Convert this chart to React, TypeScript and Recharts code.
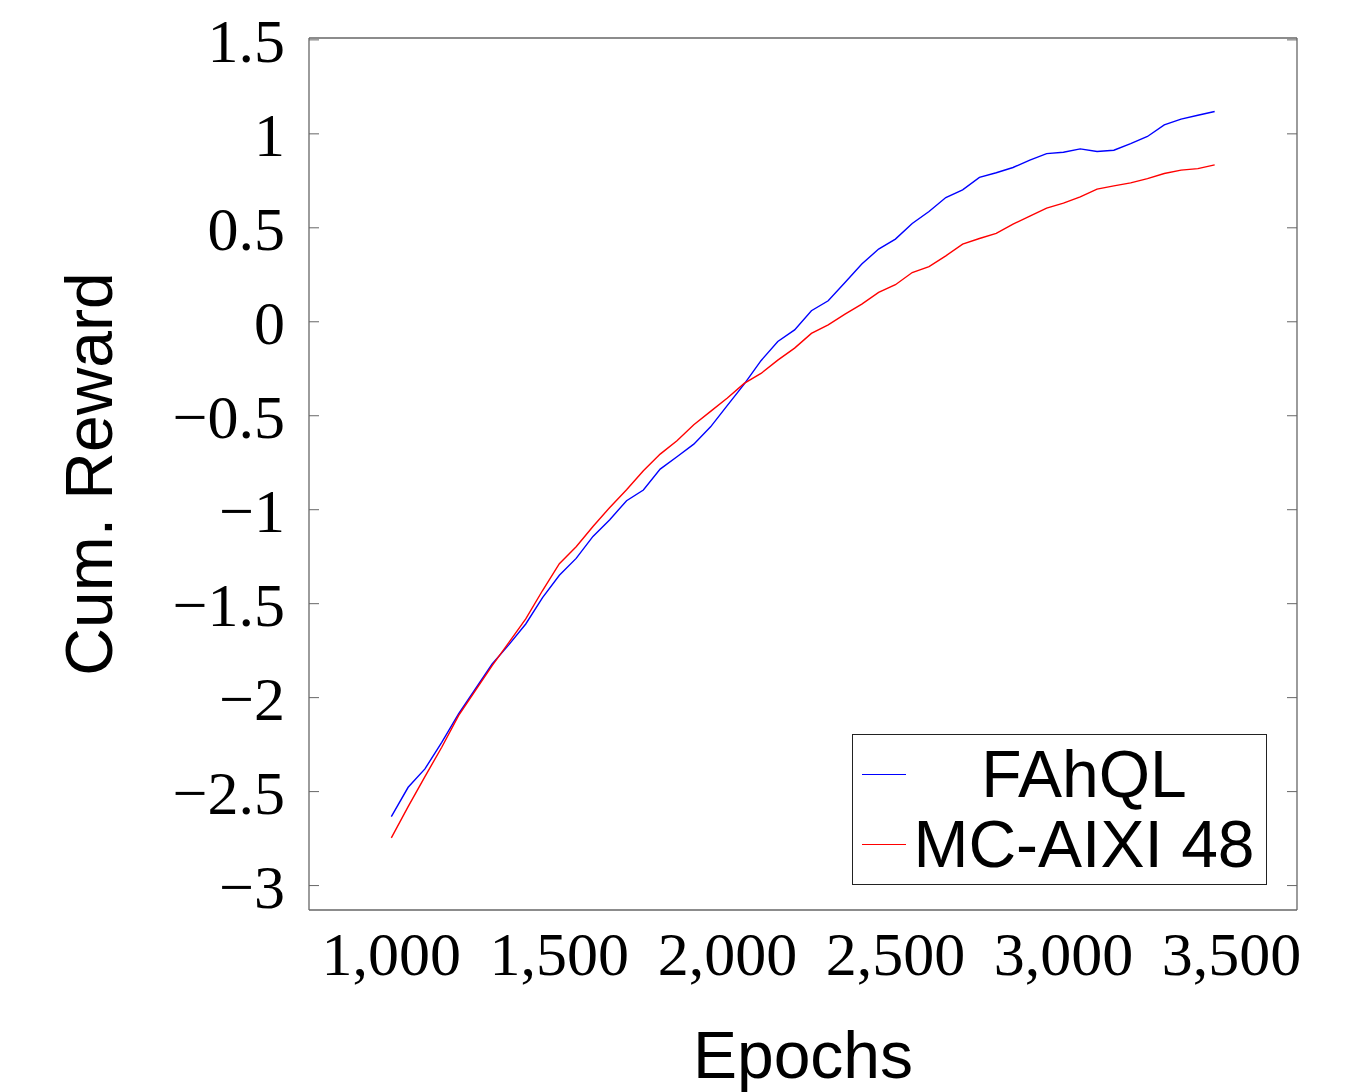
import React from 'react'
import { LineChart, Line, XAxis, YAxis, Legend } from 'recharts'

const epochs = [
  1000, 1050, 1100, 1150, 1200, 1250, 1300, 1350, 1400, 1450,
  1500, 1550, 1600, 1650, 1700, 1750, 1800, 1850, 1900, 1950,
  2000, 2050, 2100, 2150, 2200, 2250, 2300, 2350, 2400, 2450,
  2500, 2550, 2600, 2650, 2700, 2750, 2800, 2850, 2900, 2950,
  3000, 3050, 3100, 3150, 3200, 3250, 3300, 3350, 3400, 3450,
]

const fahql = [
  -2.633, -2.477, -2.379, -2.238, -2.087, -1.954, -1.821, -1.718, -1.608, -1.468,
  -1.349, -1.259, -1.142, -1.053, -0.952, -0.895, -0.784, -0.718, -0.651, -0.559,
  -0.445, -0.332, -0.207, -0.105, -0.043, 0.059, 0.112, 0.209, 0.307, 0.387,
  0.44, 0.523, 0.587, 0.661, 0.702, 0.768, 0.793, 0.821, 0.86, 0.895,
  0.902, 0.92, 0.906, 0.913, 0.948, 0.986, 1.048, 1.078, 1.099, 1.119,
]

const mcAixi = [
  -2.746, -2.58, -2.42, -2.264, -2.096, -1.963, -1.83, -1.706, -1.581, -1.43,
  -1.287, -1.197, -1.089, -0.988, -0.894, -0.793, -0.704, -0.633, -0.548, -0.477,
  -0.406, -0.328, -0.275, -0.204, -0.14, -0.062, -0.016, 0.041, 0.094, 0.156,
  0.197, 0.262, 0.293, 0.351, 0.413, 0.443, 0.47, 0.52, 0.562, 0.605,
  0.631, 0.665, 0.706, 0.723, 0.739, 0.762, 0.789, 0.807, 0.815, 0.835,
]

const xTicks = [1000, 1500, 2000, 2500, 3000, 3500]
const yTicks = [-3, -2.5, -2, -1.5, -1, -0.5, 0, 0.5, 1, 1.5]
const xDomain = [755, 3695]
const yDomain = [-3.13, 1.51]

const data = epochs.map((e, i) => ({ epoch: e, fahql: fahql[i], mcAixi: mcAixi[i] }))

const AXIS = '#666'
const SERIF = '"Liberation Serif", "Times New Roman", serif'
const SANS = '"Liberation Sans", Arial, sans-serif'
const tickFont = { fontFamily: SERIF, fontSize: 62, fill: '#000' }

const fmtX = (v: number) => v.toLocaleString('en-US')
const fmtY = (v: number) => (v < 0 ? '\u2212' + String(-v) : String(v))

// blank tick label so only the inward tick marks are drawn
const NoLabel = () => <g />

function YTitle({ viewBox }: any) {
  const cy = viewBox.y + viewBox.height / 2
  return (
    <text x={112} y={cy} transform={`rotate(-90, 112, ${cy})`} textAnchor="middle"
      style={{ fontFamily: SANS, fontSize: 66, fill: '#000' }}>
      Cum. Reward
    </text>
  )
}

function XTitle({ viewBox }: any) {
  const cx = viewBox.x + viewBox.width / 2
  return (
    <text x={cx} y={viewBox.y + 168} textAnchor="middle"
      style={{ fontFamily: SANS, fontSize: 66, fill: '#000' }}>
      Epochs
    </text>
  )
}

function LegendBox({ payload }: any) {
  return (
    <div style={{
      border: '1.5px solid #222', background: '#fff', width: 413, padding: '4px 0 5px 0',
      fontFamily: SANS, fontSize: 66, color: '#000', boxSizing: 'content-box',
    }}>
      {(payload || []).map((p: any) => (
        <div key={p.value} style={{ display: 'flex', alignItems: 'center', height: 70, lineHeight: '70px' }}>
          <div style={{ width: 44, marginLeft: 9, marginRight: 4, borderTop: `1.5px solid ${p.color}` }} />
          <div style={{ width: 348, textAlign: 'center', whiteSpace: 'nowrap' }}>{p.value}</div>
        </div>
      ))}
    </div>
  )
}

export default function App() {
  return (
    <div style={{ position: 'absolute', left: 0, top: 0, width: 1372, height: 1092, background: '#fff' }}>
      <LineChart width={1372} height={1092} data={data} margin={{ top: 38, right: 75, bottom: 0, left: 0 }}>
        {/* labelled axes */}
        <XAxis xAxisId="b" dataKey="epoch" type="number" domain={xDomain} ticks={xTicks}
          allowDataOverflow height={182} tickFormatter={fmtX} tick={tickFont}
          tickLine={false} tickSize={0} tickMargin={21} axisLine={{ stroke: AXIS, strokeWidth: 1.3 }}
          label={<XTitle />} />
        <YAxis yAxisId="l" type="number" domain={yDomain} ticks={yTicks} allowDataOverflow
          width={309} tickFormatter={fmtY} tick={tickFont} tickLine={false} tickSize={0} tickMargin={24}
          axisLine={{ stroke: AXIS, strokeWidth: 1.3 }} label={<YTitle />} />

        {/* inward ticks + frame */}
        <XAxis xAxisId="bi" type="number" domain={xDomain} ticks={xTicks} allowDataOverflow
          mirror orientation="bottom" tick={NoLabel} tickSize={10} axisLine={false}
          tickLine={{ stroke: AXIS, strokeWidth: 1 }} height={10} />
        <XAxis xAxisId="t" type="number" domain={xDomain} ticks={xTicks} allowDataOverflow
          mirror orientation="top" tick={NoLabel} tickSize={10}
          axisLine={{ stroke: AXIS, strokeWidth: 1.3 }} tickLine={{ stroke: AXIS, strokeWidth: 1 }} height={10} />
        <YAxis yAxisId="li" type="number" domain={yDomain} ticks={yTicks} allowDataOverflow
          mirror orientation="left" tick={NoLabel} tickSize={10} axisLine={false}
          tickLine={{ stroke: AXIS, strokeWidth: 1 }} width={10} />
        <YAxis yAxisId="r" type="number" domain={yDomain} ticks={yTicks} allowDataOverflow
          mirror orientation="right" tick={NoLabel} tickSize={10}
          axisLine={{ stroke: AXIS, strokeWidth: 1.3 }} tickLine={{ stroke: AXIS, strokeWidth: 1 }} width={10} />

        <Legend content={<LegendBox />} layout="horizontal" verticalAlign="middle" align="center"
          wrapperStyle={{ position: 'absolute', left: 852, top: 734, width: 'auto' }} />

        <Line xAxisId="b" yAxisId="l" dataKey="fahql" name="FAhQL" stroke="#0000ff" strokeWidth={1.4}
          dot={false} isAnimationActive={false} />
        <Line xAxisId="b" yAxisId="l" dataKey="mcAixi" name="MC-AIXI 48" stroke="#ff0000" strokeWidth={1.4}
          dot={false} isAnimationActive={false} />
      </LineChart>
    </div>
  )
}
